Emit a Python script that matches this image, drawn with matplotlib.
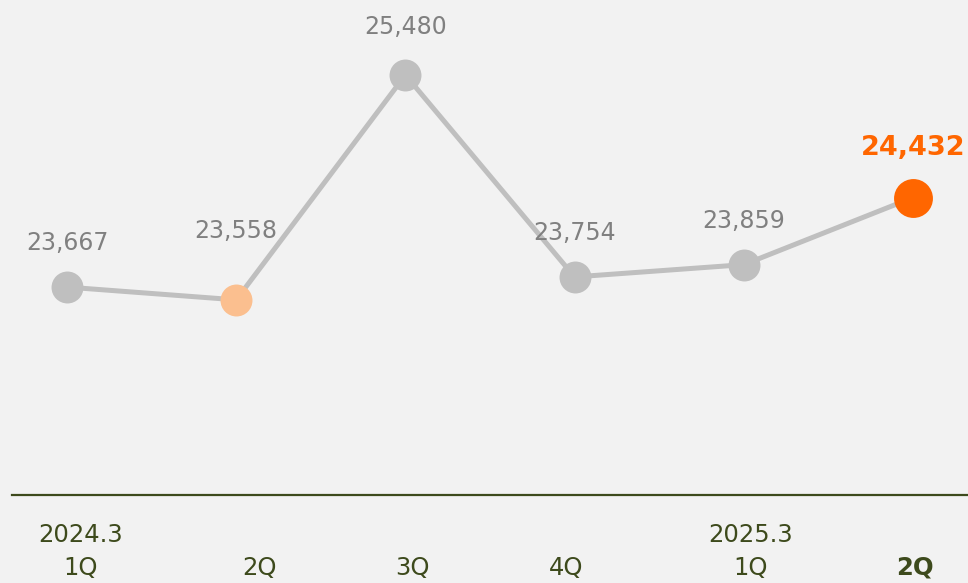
import matplotlib.pyplot as plt
import numpy as np

quarters = ['1Q', '2Q', '3Q', '4Q', '1Q', '2Q']
years = ['2024.3', '', '', '', '2025.3', '']
values = [23667, 23558, 25480, 23754, 23859, 24432]

bg = '#f2f2f2'
olive = '#3d4a1c'
grey_line = '#bfbfbf'
marker_colors = ['#bfbfbf', '#fbbf8f', '#bfbfbf', '#bfbfbf', '#bfbfbf', '#ff6600']
marker_sizes = [23, 23, 23, 23, 23, 28]
label_offsets = [23, 41, 26, 23, 23, 26]
tick_shift = [0.08, 0.14, 0.04, -0.05, 0.04, 0.01]

fig = plt.figure(figsize=(9.68, 5.83), dpi=100)
fig.patch.set_facecolor(bg)
ax = fig.add_axes([12 / 968, 88 / 583, 956 / 968, 495 / 583])
ax.set_facecolor(bg)

x = np.arange(len(values))
ax.plot(x, values, color=grey_line, linewidth=3.6, zorder=1)
for i, v in enumerate(values):
    ax.plot(i, v, 'o', color=marker_colors[i], markersize=marker_sizes[i],
            markeredgewidth=0, zorder=2)
    last = i == len(values) - 1
    ax.annotate(f'{v:,}', (i, v), xytext=(0, label_offsets[i]),
                textcoords='offset points', ha='center', va='bottom',
                fontsize=19.5 if last else 17, color='#ff6600' if last else '#808080',
                fontweight='bold' if last else 'normal')

ax.set_xlim(-0.325, 5.325)
ax.set_ylim(21890, 26121)

for s in ['top', 'right', 'left']:
    ax.spines[s].set_visible(False)
ax.spines['bottom'].set_color(olive)
ax.spines['bottom'].set_linewidth(1.6)
ax.set_xticks([])
ax.set_yticks([])

for i in range(len(quarters)):
    last = i == len(quarters) - 1
    ax.text(i + tick_shift[i], -0.08, years[i], transform=ax.get_xaxis_transform(),
            ha='center', va='center', fontsize=17.5, color=olive)
    ax.text(i + tick_shift[i], -0.147, quarters[i], transform=ax.get_xaxis_transform(),
            ha='center', va='center', fontsize=17.5, color=olive,
            fontweight='bold' if last else 'normal')

plt.savefig('out.png', dpi=100, facecolor=bg)
